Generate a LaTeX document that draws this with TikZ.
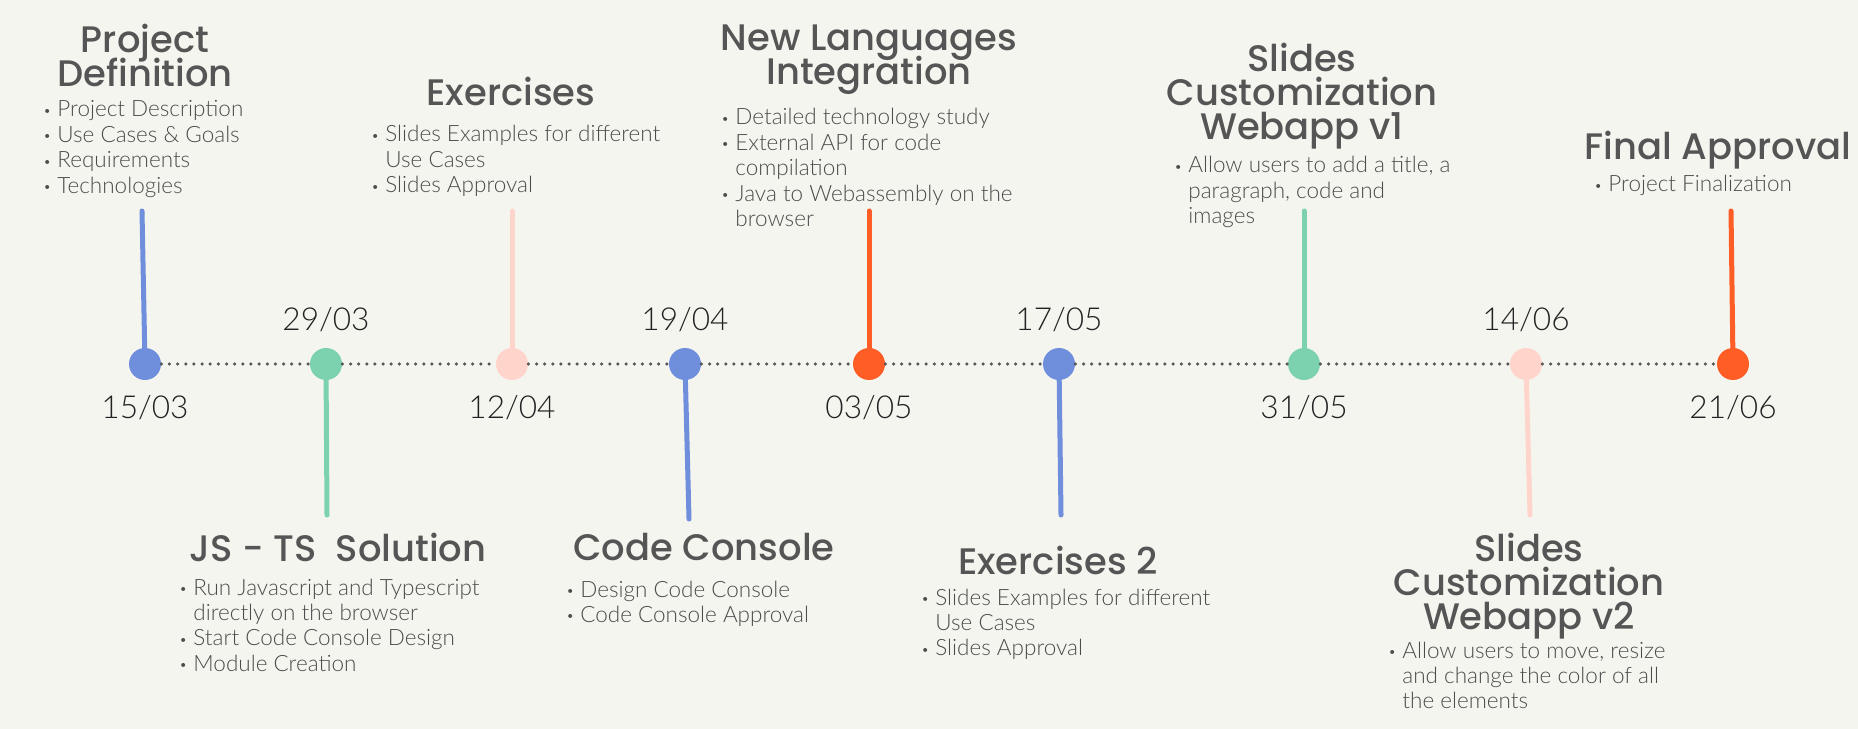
\documentclass[tikz,border=0pt]{standalone}
\usepackage{fontspec}
\setmainfont{Lato}
\IfFontExistsTF{Poppins Medium}{\newfontfamily\titlefont{Poppins Medium}}{\newfontfamily\titlefont{Poppins}}
\IfFontExistsTF{Lato Light}{\newfontfamily\datefont{Lato Light}}{\newfontfamily\datefont{Lato}}
\IfFontExistsTF{Lato Light}{\newfontfamily\itemfont{Lato Light}}{\newfontfamily\itemfont{Lato}}
\usepackage{xcolor}
\usetikzlibrary{shapes.geometric, positioning}

\definecolor{bgcream}{HTML}{F5F5F0}
\definecolor{msblue}{HTML}{6F8FDC}
\definecolor{msgreen}{HTML}{7CD2AF}
\definecolor{mspink}{HTML}{FFD4CA}
\definecolor{msorange}{HTML}{FF5D26}
\definecolor{inkgray}{HTML}{555555}
\definecolor{datedark}{HTML}{222222}

\newcommand{\blt}{\makebox[8pt][l]{\raisebox{0.9pt}{\scalebox{0.6}{\textbullet}}}}
\newcommand{\titlesize}{\titlefont\fontsize{21}{19.4}\selectfont\lineskiplimit -20pt\relax}

\begin{document}
\begin{tikzpicture}[
    x=0.02cm, y=-0.02cm,
    milestone/.style={circle, fill=#1, minimum size=0.64cm, inner sep=0pt},
    stem/.style={line width=0.1cm, line cap=round, draw=#1},
    dots/.style={line width=0.07cm, line cap=round, dash pattern=on 0pt off 0.163cm, draw=inkgray},
    date/.style={font=\datefont\fontsize{18}{18}\selectfont, text=datedark, inner sep=0pt},
    title/.style={font=\titlesize, text=inkgray, align=center, inner sep=0pt, anchor=north},
    items/.style={font=\itemfont\fontsize{12.8}{14.5}\selectfont, text=inkgray!90!black, inner sep=0pt, anchor=base west}
]
% Background and page size
\fill[bgcream] (0,0) rectangle (1858,729);
\useasboundingbox (0,0) rectangle (1858,729);

% Milestones on the timeline
\node[milestone=msblue] (m1) at (145,364) {};
\node[milestone=msgreen] (m2) at (326,364) {};
\node[milestone=mspink] (m3) at (512,364) {};
\node[milestone=msblue] (m4) at (685,364) {};
\node[milestone=msorange] (m5) at (869,364) {};
\node[milestone=msblue] (m6) at (1059,364) {};
\node[milestone=msgreen] (m7) at (1304,364) {};
\node[milestone=mspink] (m8) at (1526,364) {};
\node[milestone=msorange] (m9) at (1733,364) {};

% Dotted timeline
\draw[dots] (m1) -- (m2);
\draw[dots] (m2) -- (m3);
\draw[dots] (m3) -- (m4);
\draw[dots] (m4) -- (m5);
\draw[dots] (m5) -- (m6);
\draw[dots] (m6) -- (m7);
\draw[dots] (m7) -- (m8);
\draw[dots] (m8) -- (m9);

% Stems
\coordinate (s1) at (142,211);
\coordinate (s2) at (327,515);
\coordinate (s3) at (512,211);
\coordinate (s4) at (689,519);
\coordinate (s5) at (869,211);
\coordinate (s6) at (1061,515);
\coordinate (s7) at (1304,211);
\coordinate (s8) at (1530,515);
\coordinate (s9) at (1731,211);
\draw[stem=msblue] (m1.center) -- (s1);
\draw[stem=msgreen] (m2.center) -- (s2);
\draw[stem=mspink] (m3.center) -- (s3);
\draw[stem=msblue] (m4.center) -- (s4);
\draw[stem=msorange] (m5.center) -- (s5);
\draw[stem=msblue] (m6.center) -- (s6);
\draw[stem=msgreen] (m7.center) -- (s7);
\draw[stem=mspink] (m8.center) -- (s8);
\draw[stem=msorange] (m9.center) -- (s9);

% Dates
\node[date, below=0.3cm of m1] (d1) {15/03};
\node[date, above=0.3cm of m2] (d2) {29/03};
\node[date, below=0.3cm of m3] (d3) {12/04};
\node[date, above=0.3cm of m4] (d4) {19/04};
\node[date, below=0.3cm of m5] (d5) {03/05};
\node[date, above=0.3cm of m6] (d6) {17/05};
\node[date, below=0.3cm of m7] (d7) {31/05};
\node[date, above=0.3cm of m8] (d8) {14/06};
\node[date, below=0.3cm of m9] (d9) {21/06};

% Upper phases
\node[title] (t1) at (145,24) {Project\\Definition};
\node[items] (l1) at (43,117) {\begin{tabular}[t]{@{}l@{}l@{}}
    \blt & Project Description\\ \blt & Use Cases \& Goals\\ \blt & Requirements\\ \blt & Technologies
\end{tabular}};
\node[title] (t3) at (511,77) {Exercises};
\node[items] (l3) at (371,142) {\begin{tabular}[t]{@{}l@{}l@{}}
    \blt & Slides Examples for different\\ & Use Cases\\ \blt & Slides Approval
\end{tabular}};
\node[title] (t5) at (869,24) {New Languages\\Integration};
\node[items] (l5) at (721,125) {\begin{tabular}[t]{@{}l@{}l@{}}
    \blt & Detailed technology study\\ \blt & External API for code\\ & compilation\\ \blt & Java to Webassembly on the\\ & browser
\end{tabular}};
\node[title] (t7) at (1302,43) {Slides\\Customization\\Webapp v1};
\node[items] (l7) at (1174,173) {\begin{tabular}[t]{@{}l@{}l@{}}
    \blt & Allow users to add a title, a\\ & paragraph, code and\\ & images
\end{tabular}};
\node[title] (t9) at (1718,131) {Final Approval};
\node[items] (l9) at (1594,192) {\begin{tabular}[t]{@{}l@{}l@{}}
    \blt & Project Finalization
\end{tabular}};

% Lower phases
\node[title] (t2) at (338,533) {JS - TS\ \ Solution};
\node[items] (l2) at (179,595) {\begin{tabular}[t]{@{}l@{}l@{}}
    \blt & Run Javascript and Typescript\\ & directly on the browser\\ \blt & Start Code Console Design\\ \blt & Module Creation
\end{tabular}};
\node[title] (t4) at (704,533) {Code Console};
\node[items] (l4) at (566,597) {\begin{tabular}[t]{@{}l@{}l@{}}
    \blt & Design Code Console\\ \blt & Code Console Approval
\end{tabular}};
\node[title] (t6) at (1058,546) {Exercises 2};
\node[items] (l6) at (921,605) {\begin{tabular}[t]{@{}l@{}l@{}}
    \blt & Slides Examples for different\\ & Use Cases\\ \blt & Slides Approval
\end{tabular}};
\node[title] (t8) at (1529,533) {Slides\\Customization\\Webapp v2};
\node[items] (l8) at (1388,658) {\begin{tabular}[t]{@{}l@{}l@{}}
    \blt & Allow users to move, resize\\ & and change the color of all\\ & the elements
\end{tabular}};
\end{tikzpicture}
\end{document}
